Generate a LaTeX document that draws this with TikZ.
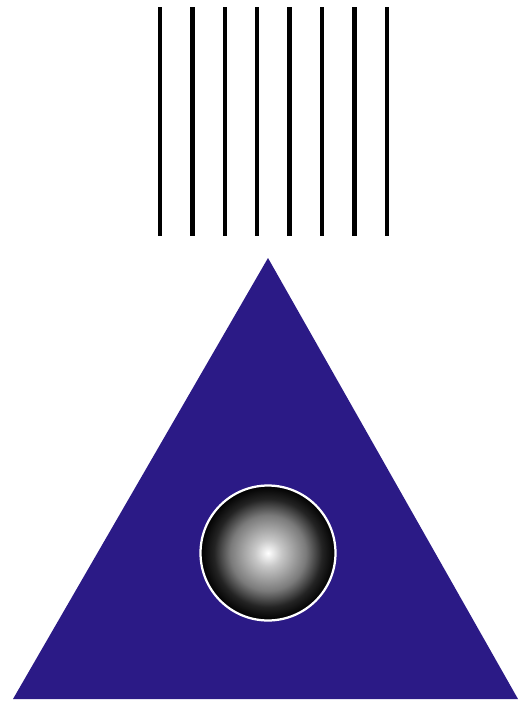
\documentclass[tikz,border=0pt]{standalone}
\usepackage{tikz}
\definecolor{prismblue}{HTML}{2B1A86}
\pgfdeclareradialshading{sphere}{\pgfpoint{0bp}{0bp}}{%
  color(0bp)=(white); color(5bp)=(black!22); color(14bp)=(black!52);
  color(20bp)=(black!86); color(25bp)=(black); color(50bp)=(black)}

\begin{document}
\begin{tikzpicture}[
    x=0.02cm, y=-0.02cm,
    ray/.style={line width=0.085cm, black},
    prism/.style={fill=prismblue},
    ball/.style={circle, draw=white, line width=0.045cm, minimum size=2.7cm, inner sep=0pt, shading=sphere}
  ]
    \useasboundingbox (0,0) rectangle (522,704);

    % incoming rays
    \foreach \i in {0,...,7} {
      \draw[ray] (160+32.4*\i,7) -- (160+32.4*\i,236);
    }

    % triangle
    \coordinate (apex) at (268,258);
    \coordinate (right) at (518,699);
    \coordinate (left) at (13,699);
    \fill[prism] (apex) -- (right) -- (left) -- cycle;

    % sphere
    \node[ball] (core) at (268,553) {};
  \end{tikzpicture}
\end{document}
